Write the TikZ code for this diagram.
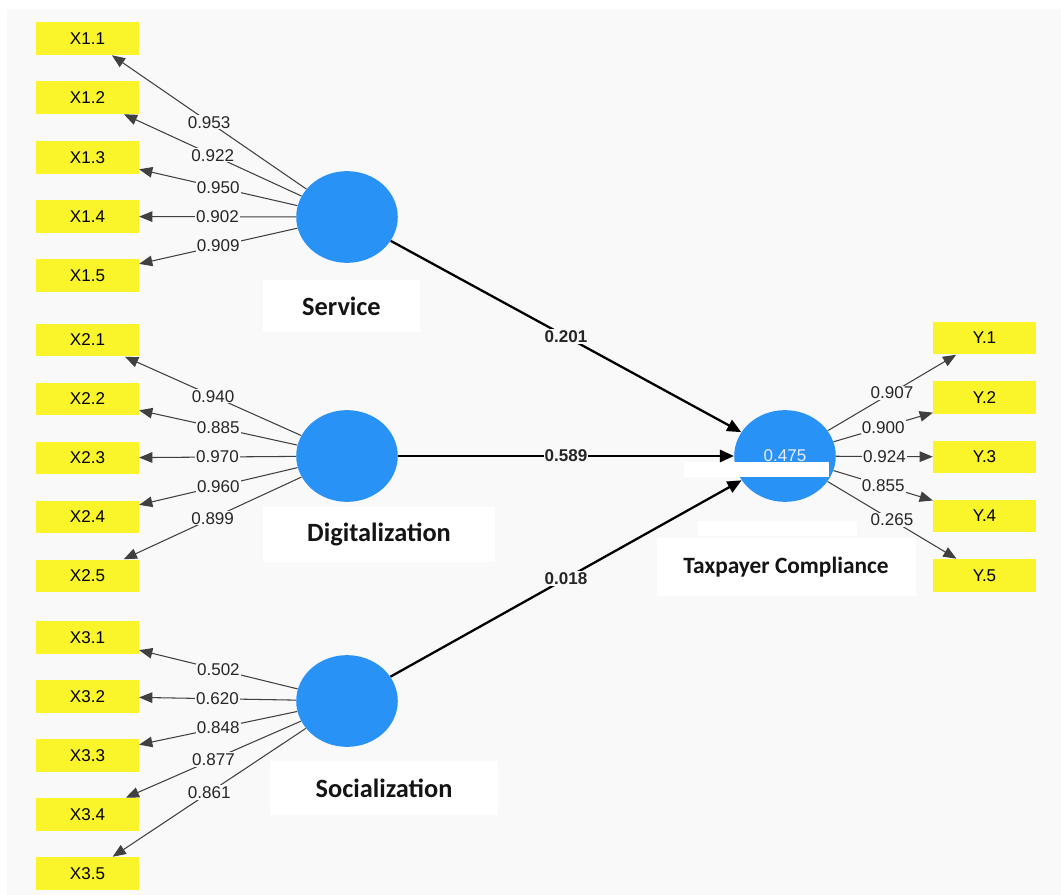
\documentclass[tikz,border=0pt]{standalone}
\usepackage{fontspec}
\setmainfont{Liberation Sans}
\newfontfamily\lvfont{Carlito}
\usetikzlibrary{arrows.meta,shapes.geometric}
\definecolor{indyellow}{RGB}{250,244,42}
\definecolor{lvblue}{RGB}{41,146,246}
\definecolor{panel}{RGB}{249,249,249}
\tikzset{
  indicator/.style={rectangle, fill=indyellow, minimum width=58.4pt, minimum height=18.7pt, inner sep=0pt, font=\fontsize{9.7}{11}\selectfont},
  latent/.style={ellipse, fill=lvblue, minimum width=57.8pt, minimum height=52.2pt, inner sep=0pt},
  lvname/.style={fill=white, inner sep=0pt, text=black!92, font=\lvfont\bfseries\fontsize{15}{17}\selectfont},
  loading/.style={draw=black!75, line width=0.6pt, -{Triangle[length=7.5pt,width=6pt]}},
  pathcoef/.style={draw=black, line width=1.3pt, -{Triangle[length=8pt,width=7pt]}},
  coef/.style={fill=panel, inner sep=0.6pt, text=black!85, font=\fontsize{9.7}{11}\selectfont},
  bcoef/.style={coef, font=\bfseries\fontsize{9.7}{11}\selectfont},
}
\begin{document}
\begin{tikzpicture}[x=0.02cm, y=-0.02cm]
	% canvas and panel
	\fill[white] (0,0) rectangle (1061,895);
	\fill[panel] (7,9) rectangle (1061,895);
	% indicators
	\foreach \i/\y in {1/38.5,2/97.5,3/157.5,4/216.5,5/275.5}
		\node[indicator] (X1\i) at (87.5,\y) {X1.\i};
	\foreach \i/\y in {1/340,2/399,3/458,4/517,5/576}
		\node[indicator] (X2\i) at (87.5,\y) {X2.\i};
	\foreach \i/\y in {1/637.5,2/696.5,3/755.5,4/814.5,5/873.5}
		\node[indicator] (X3\i) at (87.5,\y) {X3.\i};
	\foreach \i/\y in {1/338,2/397.5,3/457,4/516,5/575.5}
		\node[indicator] (Y\i) at (984.5,\y) {Y.\i};
	% latent variables
	\node[latent] (Service) at (347,217) {};
	\node[latent] (Digital) at (347,456) {};
	\node[latent] (Social) at (347,701) {};
	\node[latent] (Comply) at (785,456) {};
	\node[text=blue!8!white, font=\fontsize{9.7}{11}\selectfont] (rsq) at (785,456) {0.475};
	\fill[white] (684,462) rectangle (829,477);
	\fill[white] (698,521) rectangle (857,536);
	% names
	\node[lvname, minimum width=89pt, minimum height=29.5pt] (ServiceName) at (341.5,306) {Service};
	\node[lvname, minimum width=131.5pt, minimum height=31.2pt] (DigitalName) at (379,534.5) {Digitalization};
	\node[lvname, minimum width=129.3pt, minimum height=30.6pt] (SocialName) at (384,788) {Socialization};
	\node[lvname, minimum width=147.4pt, minimum height=32.9pt, font=\lvfont\bfseries\fontsize{13.3}{15}\selectfont] (ComplyName) at (786,567) {Taxpayer Compliance};
	% outer loadings
	\foreach \i/\v in {1/0.953,2/0.922,3/0.950,4/0.902,5/0.909}
		\draw[loading] (Service) -- node[coef]{\v} (X1\i);
	\foreach \i/\v in {1/0.940,2/0.885,3/0.970,4/0.960,5/0.899}
		\draw[loading] (Digital) -- node[coef]{\v} (X2\i);
	\foreach \i/\v in {1/0.502,2/0.620,3/0.848,4/0.877,5/0.861}
		\draw[loading] (Social) -- node[coef]{\v} (X3\i);
	\foreach \i/\v in {1/0.907,2/0.900,3/0.924,4/0.855,5/0.265}
		\draw[loading] (Comply) -- node[coef]{\v} (Y\i);
	% path coefficients
	\draw[pathcoef] (Service) -- node[bcoef]{0.201} (Comply);
	\draw[pathcoef] (Digital) -- node[bcoef]{0.589} (Comply);
	\draw[pathcoef] (Social) -- node[bcoef]{0.018} (Comply);
\end{tikzpicture}
\end{document}
